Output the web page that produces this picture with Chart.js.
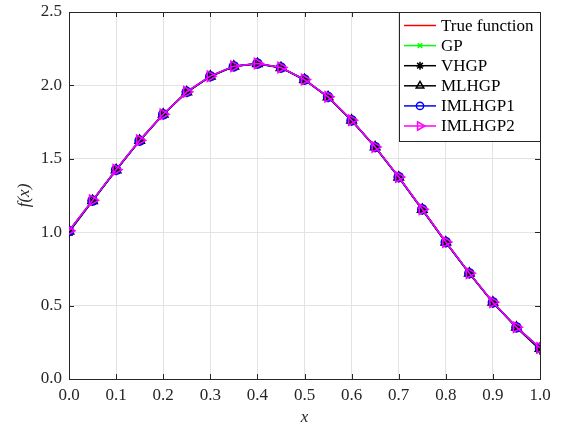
<!DOCTYPE html>
<html>
<head>
<meta charset="utf-8">
<script src="https://cdn.jsdelivr.net/npm/chart.js@4/dist/chart.umd.min.js"></script>
<style>
  html, body { margin: 0; padding: 0; background: #fff; }
  #wrap { width: 562px; height: 430px; }
</style>
</head>
<body>
<div id="wrap"><canvas id="c" width="562" height="430"></canvas></div>
<script>
// ---- data ----
const xValues = [0, 0.05, 0.1, 0.15, 0.2, 0.25, 0.3, 0.35, 0.4, 0.45, 0.5, 0.55, 0.6, 0.65, 0.7, 0.75, 0.8, 0.85, 0.9, 0.95, 1.0];
const trueFunction = [1.010, 1.217, 1.426, 1.626, 1.804, 1.956, 2.063, 2.131, 2.149, 2.122, 2.040, 1.922, 1.763, 1.581, 1.376, 1.156, 0.933, 0.721, 0.523, 0.353, 0.212];
const gpValues     = [1.008, 1.216, 1.425, 1.625, 1.803, 1.955, 2.062, 2.130, 2.148, 2.121, 2.039, 1.921, 1.762, 1.580, 1.375, 1.155, 0.932, 0.720, 0.522, 0.352, 0.210];
const vhgpValues   = [1.000, 1.212, 1.422, 1.622, 1.801, 1.953, 2.060, 2.129, 2.147, 2.120, 2.037, 1.919, 1.760, 1.578, 1.373, 1.153, 0.930, 0.718, 0.520, 0.350, 0.200];
const mlhgpValues  = [1.006, 1.215, 1.424, 1.624, 1.803, 1.955, 2.062, 2.130, 2.148, 2.121, 2.039, 1.921, 1.762, 1.580, 1.375, 1.155, 0.932, 0.720, 0.522, 0.352, 0.208];
const imlhgp1Values = [1.008, 1.216, 1.425, 1.625, 1.804, 1.956, 2.063, 2.131, 2.149, 2.122, 2.040, 1.922, 1.763, 1.581, 1.376, 1.156, 0.933, 0.721, 0.523, 0.353, 0.211];
const imlhgp2Values = [1.010, 1.217, 1.426, 1.626, 1.804, 1.956, 2.063, 2.131, 2.149, 2.122, 2.040, 1.922, 1.763, 1.581, 1.376, 1.156, 0.933, 0.721, 0.523, 0.353, 0.212];
const xTicks = [0, 0.1, 0.2, 0.3, 0.4, 0.5, 0.6, 0.7, 0.8, 0.9, 1.0];
const yTicks = [0, 0.5, 1.0, 1.5, 2.0, 2.5];
const seriesNames = ['True function', 'GP', 'VHGP', 'MLHGP', 'IMLHGP1', 'IMLHGP2'];

const FONT = 'Liberation Serif';
const AXIS = '#262626';

function pts(ys) { return xValues.map((x, i) => ({ x: x, y: ys[i] })); }

function ds(idx, ys, color, style, rot, radius) {
  return {
    label: seriesNames[idx],
    data: pts(ys),
    order: 10 - idx,
    borderColor: color,
    backgroundColor: 'rgba(0,0,0,0)',
    pointBorderColor: color,
    pointBackgroundColor: 'rgba(0,0,0,0)',
    borderWidth: 1.5,
    pointBorderWidth: 1.5,
    pointStyle: style || false,
    pointRadius: style ? radius : 0,
    pointRotation: rot || 0,
    tension: 0,
  };
}

const datasets = [
  ds(0, trueFunction, '#ff0000', null, 0, 0),
  ds(1, gpValues, '#00ff00', 'crossRot', 0, 4),
  ds(2, vhgpValues, '#000000', 'star', 0, 5),
  ds(3, mlhgpValues, '#000000', 'triangle', 0, 5.5),
  ds(4, imlhgp1Values, '#0000ff', 'circle', 0, 4.5),
  ds(5, imlhgp2Values, '#ff00ff', 'triangle', 90, 6),
];

// box + inward ticks
const boxPlugin = {
  id: 'box',
  beforeDatasetsDraw(chart) {
    const { ctx, chartArea: a, scales } = chart;
    ctx.save();
    ctx.strokeStyle = AXIS;
    ctx.lineWidth = 1;
    ctx.beginPath();
    const L = 5;
    xTicks.forEach(v => {
      const px = Math.round(scales.x.getPixelForValue(v)) + 0.5;
      ctx.moveTo(px, a.bottom); ctx.lineTo(px, a.bottom - L);
      ctx.moveTo(px, a.top); ctx.lineTo(px, a.top + L);
    });
    yTicks.forEach(v => {
      const py = Math.round(scales.y.getPixelForValue(v)) + 0.5;
      ctx.moveTo(a.left, py); ctx.lineTo(a.left + L, py);
      ctx.moveTo(a.right, py); ctx.lineTo(a.right - L, py);
    });
    ctx.stroke();
    ctx.strokeRect(Math.round(a.left) + 0.5, Math.round(a.top) + 0.5, Math.round(a.right - a.left), Math.round(a.bottom - a.top));
    ctx.restore();
  }
};

// MATLAB-style legend inside the axes
const legendPlugin = {
  id: 'mlegend',
  afterDraw(chart) {
    const { ctx, chartArea: a } = chart;
    const x0 = 399, y0 = Math.round(a.top) + 0.5, w = Math.round(a.right) - x0, h = 129;
    ctx.save();
    ctx.fillStyle = '#ffffff';
    ctx.fillRect(x0 + 0.5, y0, w, h);
    ctx.strokeStyle = AXIS;
    ctx.lineWidth = 1;
    ctx.strokeRect(x0 + 0.5, y0, w, h);
    ctx.font = '17px "' + FONT + '"';
    ctx.textBaseline = 'middle';
    const items = chart.data.datasets.slice().sort((p, q) => seriesNames.indexOf(p.label) - seriesNames.indexOf(q.label));
    items.forEach((d, i) => {
      const cy = y0 + 13 + i * 20.1;
      ctx.strokeStyle = d.borderColor;
      ctx.lineWidth = 1.5;
      ctx.beginPath();
      ctx.moveTo(404, cy); ctx.lineTo(436, cy);
      ctx.stroke();
      if (d.pointStyle) {
        ctx.strokeStyle = d.borderColor;
        ctx.fillStyle = 'rgba(0,0,0,0)';
        Chart.helpers.drawPoint(ctx, {
          pointStyle: d.pointStyle,
          rotation: d.pointRotation,
          radius: d.pointRadius * 0.8,
          borderWidth: 1.5
        }, 420, cy);
      }
      ctx.fillStyle = '#000000';
      ctx.fillText(d.label, 441, cy + 1);
    });
    ctx.restore();
  }
};

new Chart(document.getElementById('c'), {
  type: 'line',
  data: { datasets: datasets },
  options: {
    responsive: false,
    animation: false,
    layout: { padding: { top: 12, right: 22, left: 0, bottom: 0 } },
    plugins: { legend: { display: false }, tooltip: { enabled: false } },
    scales: {
      x: {
        type: 'linear', min: 0, max: 1,
        afterFit: s => { s.height = 51; s.paddingLeft = 0; s.paddingRight = 0; },
        afterBuildTicks: s => { s.ticks = xTicks.map(v => ({ value: v })); },
        border: { display: false },
        grid: { color: '#e3e3e3', lineWidth: 1, drawTicks: false },
        ticks: { color: AXIS, padding: 6, font: { family: FONT, size: 17 }, callback: v => Number(v).toFixed(1), maxRotation: 0, autoSkip: false },
        title: { display: true, text: 'x', color: AXIS, padding: { top: 0, bottom: 2 }, font: { family: FONT, size: 17, style: 'italic' } }
      },
      y: {
        type: 'linear', min: 0, max: 2.5,
        afterFit: s => { s.width = 69; s.paddingTop = 0; s.paddingBottom = 0; },
        afterBuildTicks: s => { s.ticks = yTicks.map(v => ({ value: v })); },
        border: { display: false },
        grid: { color: '#e3e3e3', lineWidth: 1, drawTicks: false },
        ticks: { color: AXIS, padding: 7, font: { family: FONT, size: 17 }, callback: v => Number(v).toFixed(1), autoSkip: false },
        title: { display: true, text: 'f(x)', color: AXIS, padding: { top: 14, bottom: 0 }, font: { family: FONT, size: 17, style: 'italic' } }
      }
    }
  },
  plugins: [boxPlugin, legendPlugin]
});
</script>
</body>
</html>
